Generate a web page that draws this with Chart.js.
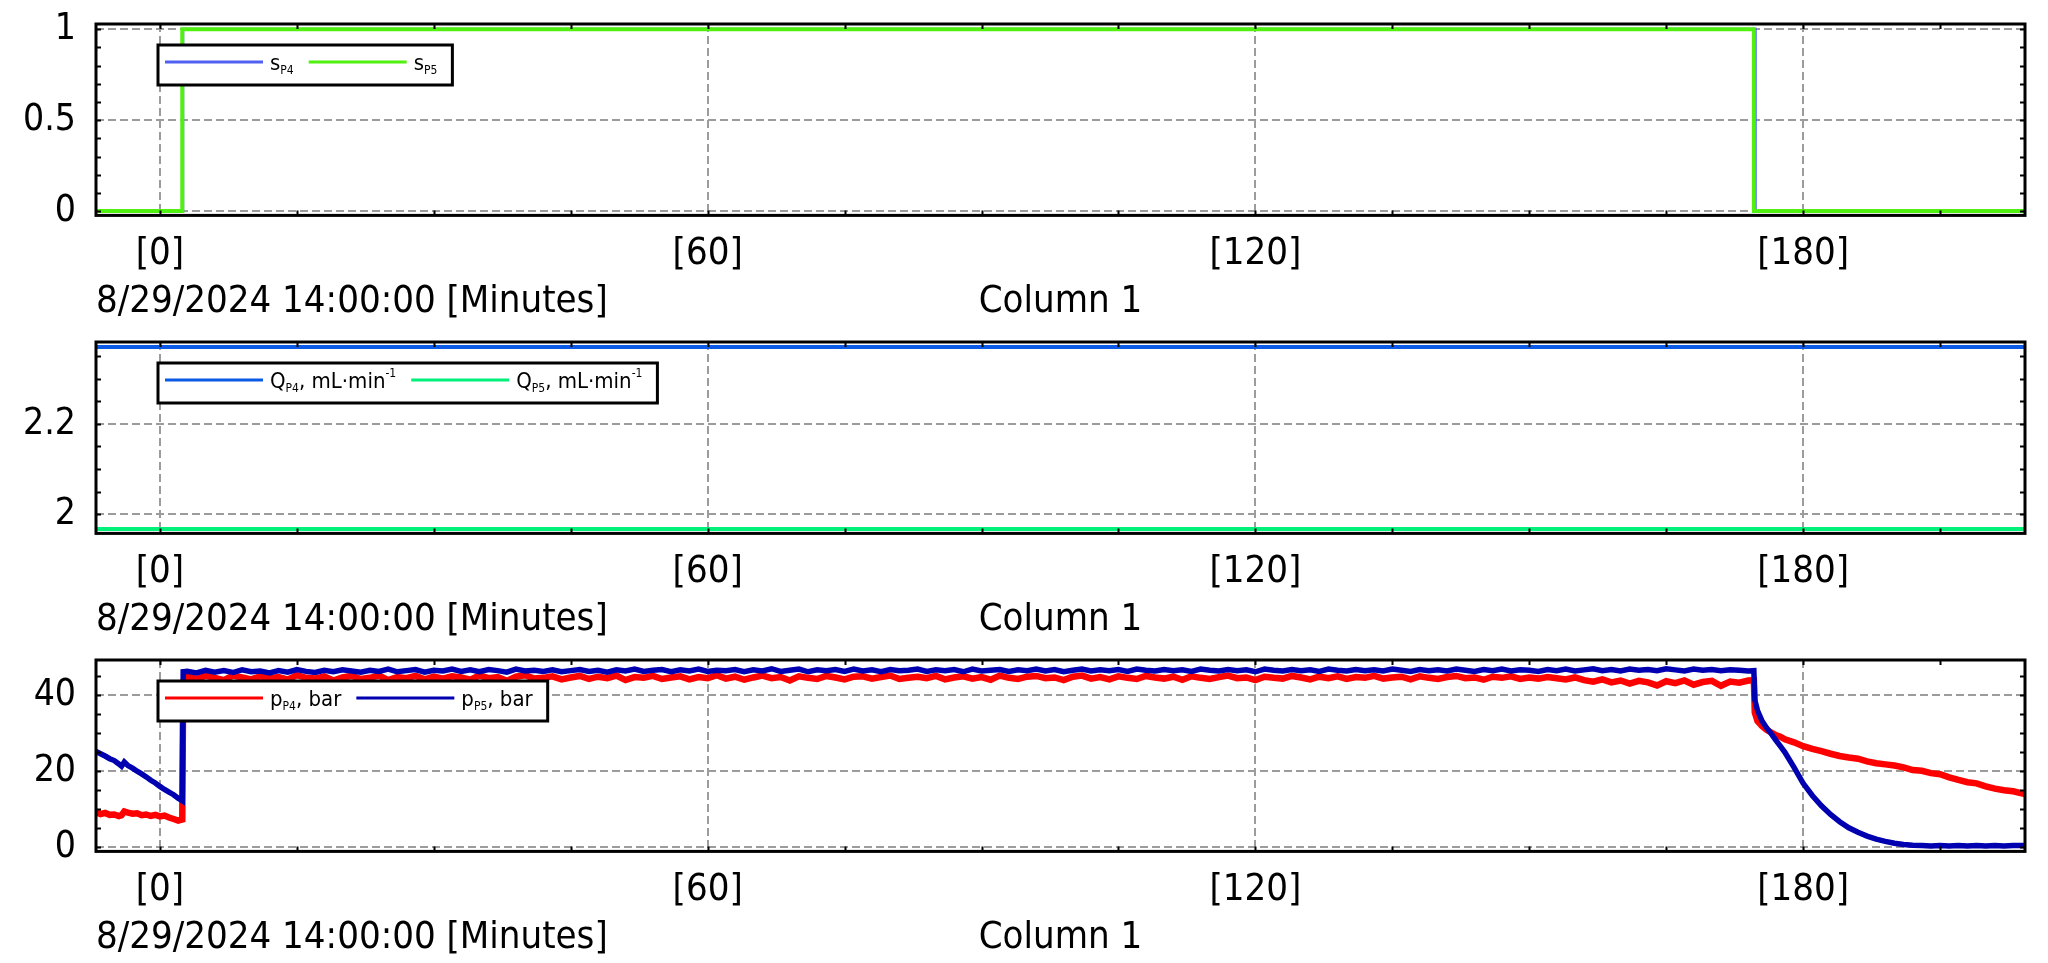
<!DOCTYPE html>
<html><head><meta charset="utf-8">
<script src="https://cdn.jsdelivr.net/npm/chart.js@4.4.1/dist/chart.umd.min.js"></script>
<style>
html,body{margin:0;padding:0;background:#fff;width:2048px;height:963px;overflow:hidden}
canvas{position:absolute;left:0}
</style></head><body>
<canvas id="c1" width="2048" height="318" style="top:0px"></canvas>
<canvas id="c2" width="2048" height="318" style="top:318px"></canvas>
<canvas id="c3" width="2048" height="327" style="top:636px"></canvas>
<script>
// ---------- shared x axis ----------
const xTickValues = [0, 60, 120, 180];
const xTickLabels = ['[0]', '[60]', '[120]', '[180]'];
const xAxisTitle = '8/29/2024 14:00:00 [Minutes]';
const xAxisCaption = 'Column 1';
const xMin = -7, xMax = 204.3;

// ---------- panel 1: s ----------
const sP4Time = [-7, 2.5, 2.5, 174.75, 174.75, 204.3];
const sP4Values = [0, 0, 1, 1, 0, 0];
const sP5Time = [-7, 2.45, 2.45, 174.6, 174.6, 204.3];
const sP5Values = [0, 0, 1, 1, 0, 0];
const sYTicks = [0, 0.5, 1];
const sYLabels = ['0', '0.5', '1'];
const sLegend = [
  [{t:'s'}, {t:'P4', sub:true}],
  [{t:'s'}, {t:'P5', sub:true}]
];

// ---------- panel 2: Q ----------
const qTime = [-7, 204.3];
const qP4Values = [2.371, 2.371];
const qP5Values = [1.967, 1.967];
const qYTicks = [2, 2.2];
const qYLabels = ['2', '2.2'];
const qLegend = [
  [{t:'Q'}, {t:'P4', sub:true}, {t:', mL·min'}, {t:'-1', sup:true}],
  [{t:'Q'}, {t:'P5', sub:true}, {t:', mL·min'}, {t:'-1', sup:true}]
];

// ---------- panel 3: p ----------
const pTime = [
  -7, -6.5, -6, -5.5, -5, -4.5, -4.2, -3.9, -3.5, -3,
  -2.5, -2, -1.5, -1, -0.5, 0, 0.5, 1, 1.5, 2,
  2.45, 2.55,
  3, 4, 5, 6, 7, 8, 9, 10, 11, 12,
  13, 14, 15, 16, 17, 18, 19, 20, 21, 22,
  23, 24, 25, 26, 27, 28, 29, 30, 31, 32,
  33, 34, 35, 36, 37, 38, 39, 40, 41, 42,
  43, 44, 45, 46, 47, 48, 49, 50, 51, 52,
  53, 54, 55, 56, 57, 58, 59, 60, 61, 62,
  63, 64, 65, 66, 67, 68, 69, 70, 71, 72,
  73, 74, 75, 76, 77, 78, 79, 80, 81, 82,
  83, 84, 85, 86, 87, 88, 89, 90, 91, 92,
  93, 94, 95, 96, 97, 98, 99, 100, 101, 102,
  103, 104, 105, 106, 107, 108, 109, 110, 111, 112,
  113, 114, 115, 116, 117, 118, 119, 120, 121, 122,
  123, 124, 125, 126, 127, 128, 129, 130, 131, 132,
  133, 134, 135, 136, 137, 138, 139, 140, 141, 142,
  143, 144, 145, 146, 147, 148, 149, 150, 151, 152,
  153, 154, 155, 156, 157, 158, 159, 160, 161, 162,
  163, 164, 165, 166, 167, 168, 169, 170, 171, 172,
  173, 174, 174.6,
  174.7, 175, 175.5, 176, 176.5, 177, 177.5, 178, 179, 180,
  181, 182, 183, 184, 185, 186, 187, 188, 189, 190,
  191, 192, 193, 194, 195, 196, 197, 198, 199, 200,
  201, 202, 203, 204.3
];
const pP4Values = [
  9.2, 8.7, 9.0, 8.5, 8.6, 8.2, 8.4, 9.4, 9.1, 8.8,
  8.9, 8.4, 8.6, 8.2, 8.5, 8.1, 8.3, 7.8, 7.4, 7.0,
  7.3, 43.6,
  44.9, 44.3, 45.1, 44.6, 44.0, 45.2, 44.7, 44.2, 45.0, 44.5,
  44.8, 44.1, 45.3, 44.6, 44.4, 45.0, 43.9, 44.7, 45.1, 44.3,
  44.6, 45.2, 44.0, 44.8, 44.5, 45.1, 44.2, 44.9, 44.4, 45.0,
  44.7, 44.1, 45.2, 44.5, 44.8, 43.8, 44.9, 45.3, 44.4, 44.6,
  45.0, 44.2, 44.7, 45.1, 44.3, 44.9, 44.5, 45.2, 44.0, 44.8,
  44.6, 45.1, 44.3, 44.7, 45.0, 44.2, 44.8, 44.5, 45.3, 44.4,
  44.9, 44.1, 44.7, 45.2, 44.5, 44.8, 43.9, 45.0, 44.6, 44.3,
  45.1, 44.7, 44.2, 44.9, 45.0, 44.4, 44.8, 45.2, 44.3, 44.6,
  44.9, 44.5, 45.1, 44.2, 44.7, 45.0, 44.4, 44.8, 44.1, 45.2,
  44.6, 44.3, 44.9, 45.1, 44.5, 44.7, 44.0, 44.9, 45.2, 44.4,
  44.8, 44.2, 45.0, 44.6, 44.3, 45.1, 44.7, 44.4, 44.9, 44.1,
  45.0, 44.6, 44.3, 44.8, 45.2, 44.5, 44.7, 44.0, 44.9, 44.6,
  44.4, 45.1, 44.7, 44.2, 44.9, 44.5, 45.0, 44.3, 44.8, 44.6,
  45.1, 44.4, 44.7, 44.9, 44.2, 45.0, 44.6, 44.3, 44.8, 45.1,
  44.5, 44.7, 44.1, 44.9, 44.6, 45.0, 44.3, 44.7, 44.4, 44.8,
  44.5, 44.2, 44.7, 44.0, 43.6, 44.2, 43.4, 43.9, 43.1, 43.8,
  43.4, 42.6, 43.7, 43.2, 43.9, 42.8, 43.5, 43.8, 42.5, 43.6,
  43.3, 43.9, 44.0,
  35.5, 33.2, 31.9, 30.9, 30.2, 29.5, 29.1, 28.4, 27.6, 26.6,
  25.9, 25.3, 24.6, 24.0, 23.6, 23.3, 22.6, 22.1, 21.8, 21.5,
  21.0, 20.3, 20.1, 19.5, 19.2, 18.4, 17.7, 17.1, 16.8, 16.0,
  15.4, 15.0, 14.7, 14.0
];
const pP5Values = [
  25.2, 24.6, 24.0, 23.3, 22.8, 21.9, 21.3, 22.4, 21.5, 20.8,
  20.0, 19.3, 18.5, 17.6, 16.9, 16.0, 15.2, 14.5, 13.8, 12.9,
  12.2, 46.2,
  46.3, 45.9, 46.6, 46.1, 46.5, 46.0, 46.7, 46.2, 46.4, 45.9,
  46.5, 46.1, 46.8, 46.3, 46.0, 46.6, 46.2, 46.7, 46.4, 46.1,
  46.6, 46.3, 46.9, 46.2, 46.5, 46.8, 46.1, 46.6, 46.4, 46.9,
  46.3, 46.7, 46.2, 46.8, 46.5, 46.1, 46.9, 46.4, 46.6, 46.3,
  46.7, 46.2, 46.5, 46.8, 46.3, 46.6, 46.1, 46.7, 46.4, 46.9,
  46.3, 46.6, 46.8, 46.2, 46.7, 46.4, 46.9, 46.3, 46.6, 46.5,
  46.8, 46.2, 46.7, 46.4, 47.0, 46.3, 46.6, 46.9, 46.2, 46.7,
  46.5, 46.8, 46.3, 46.9, 46.4, 46.7, 46.2, 46.8, 46.5, 46.6,
  46.9, 46.3, 46.7, 46.5, 46.8, 46.2, 46.9, 46.4, 46.6, 46.8,
  46.3, 46.7, 46.5, 46.9, 46.4, 46.8, 46.2, 46.6, 46.9, 46.4,
  46.7, 46.5, 46.8, 46.3, 46.9, 46.6, 46.4, 46.8, 46.5, 46.7,
  46.3, 46.9, 46.6, 46.4, 46.8, 46.5, 46.7, 46.2, 46.9, 46.6,
  46.4, 46.8, 46.5, 46.7, 46.3, 46.9, 46.6, 46.4, 46.8, 46.5,
  46.7, 46.4, 46.9, 46.6, 46.3, 46.8, 46.5, 46.7, 46.4, 46.9,
  46.6, 46.3, 46.8, 46.5, 46.9, 46.4, 46.7, 46.6, 46.3, 46.8,
  46.5, 46.9, 46.4, 46.7, 47.0, 46.5, 46.8, 46.4, 46.9, 46.6,
  46.8, 46.5, 47.0, 46.7, 46.4, 46.9, 46.6, 46.8, 46.5, 46.7,
  46.6, 46.4, 46.5,
  38.8, 36.0, 33.2, 31.4, 29.9, 28.2, 26.6, 25.0, 21.0, 16.8,
  13.6, 10.9, 8.6, 6.7, 5.1, 3.9, 2.9, 2.1, 1.5, 1.0,
  0.7, 0.5, 0.4, 0.3, 0.4, 0.3, 0.4, 0.3, 0.4, 0.3,
  0.4, 0.3, 0.4, 0.4
];
const pYTicks = [0, 20, 40];
const pYLabels = ['0', '20', '40'];
const pLegend = [
  [{t:'p'}, {t:'P4', sub:true}, {t:', bar'}],
  [{t:'p'}, {t:'P5', sub:true}, {t:', bar'}]
];

// ---------- styling ----------
const FONT = "'DejaVu Sans Condensed', 'DejaVu Sans', sans-serif";
const AREA_TOP = 24, AREA_H = 191.4, AREA_LEFT = 96, AREA_RIGHT_PAD = 23;

const toXY = (xs, ys) => xs.map((x, i) => ({x: x, y: ys[i]}));

const decorPlugin = {
  id: 'decor',
  afterDraw(chart, args, o) {
    const {ctx, chartArea: a, scales} = chart;
    const xs = scales.x, ys = scales.y;
    ctx.save();
    // inward minor ticks on all four sides
    ctx.strokeStyle = '#000';
    ctx.lineWidth = 2;
    ctx.beginPath();
    for (let k = Math.ceil(xs.min / o.xStep); k * o.xStep <= xs.max; k++) {
      const px = Math.round(xs.getPixelForValue(k * o.xStep)) + 0.5;
      ctx.moveTo(px, a.top); ctx.lineTo(px, a.top + 5);
      ctx.moveTo(px, a.bottom); ctx.lineTo(px, a.bottom - 5);
    }
    for (let k = Math.ceil(ys.min / o.yStep - 1e-9); k * o.yStep <= ys.max + 1e-9; k++) {
      const py = Math.round(ys.getPixelForValue(k * o.yStep)) + 0.5;
      ctx.moveTo(a.left, py); ctx.lineTo(a.left + 5, py);
      ctx.moveTo(a.right, py); ctx.lineTo(a.right - 5, py);
    }
    ctx.stroke();
    // frame
    ctx.lineWidth = 3;
    ctx.strokeRect(a.left, a.top, a.right - a.left, a.bottom - a.top);

    // legend box
    const items = o.legend;
    const mainFont = `22px ${FONT}`, smallFont = `12px ${FONT}`;
    const widthOf = parts => parts.reduce((w, p) => {
      ctx.font = (p.sub || p.sup) ? smallFont : mainFont;
      return w + ctx.measureText(p.t).width;
    }, 0);
    const lineLen = 98, pad = 7, gap = 15;
    let boxW = pad;
    items.forEach(parts => { boxW += lineLen + pad + widthOf(parts) + gap; });
    const bx = a.left + 62, by = a.top + 21, bh = 40;
    ctx.fillStyle = '#fff';
    ctx.fillRect(bx, by, boxW, bh);
    ctx.strokeStyle = '#000';
    ctx.lineWidth = 3;
    ctx.strokeRect(bx, by, boxW, bh);
    const cy = by + bh / 2;
    let x = bx + pad;
    items.forEach((parts, i) => {
      ctx.strokeStyle = chart.data.datasets[i].borderColor;
      ctx.lineWidth = 3;
      ctx.beginPath();
      ctx.moveTo(x, cy - 3); ctx.lineTo(x + lineLen, cy - 3);
      ctx.stroke();
      x += lineLen + pad;
      ctx.fillStyle = '#000';
      ctx.textAlign = 'left';
      ctx.textBaseline = 'alphabetic';
      parts.forEach(p => {
        ctx.font = (p.sub || p.sup) ? smallFont : mainFont;
        const dy = p.sub ? 4 : (p.sup ? -11 : 0);
        ctx.fillText(p.t, x, cy + 5 + dy);
        x += ctx.measureText(p.t).width;
      });
      x += gap;
    });

    // x-axis titles
    ctx.fillStyle = '#000';
    ctx.font = `38px ${FONT}`;
    ctx.textBaseline = 'alphabetic';
    ctx.textAlign = 'left';
    ctx.fillText(xAxisTitle, a.left, a.bottom + 97);
    ctx.textAlign = 'center';
    ctx.fillText(xAxisCaption, (a.left + a.right) / 2, a.bottom + 97);
    ctx.restore();
  }
};

function makeChart(id, datasets, yMin, yMax, yTicks, yLabels, yStep, legend) {
  return new Chart(document.getElementById(id), {
    type: 'line',
    data: {datasets: datasets},
    options: {
      responsive: false,
      animation: false,
      events: [],
      layout: {padding: {top: AREA_TOP, right: AREA_RIGHT_PAD, left: 0, bottom: 0}},
      elements: {point: {radius: 0}, line: {tension: 0, borderJoinStyle: 'miter', borderCapStyle: 'butt'}},
      plugins: {
        legend: {display: false},
        tooltip: {enabled: false},
        decor: {xStep: 15, yStep: yStep, legend: legend}
      },
      scales: {
        x: {
          type: 'linear', min: xMin, max: xMax,
          afterBuildTicks: s => { s.ticks = xTickValues.map(v => ({value: v})); },
          afterFit: s => {
            s.height = s.chart.height - AREA_TOP - AREA_H;
            s.paddingLeft = 0; s.paddingRight = 0;
          },
          ticks: {
            callback: (v, i) => xTickLabels[i],
            font: {family: FONT, size: 38},
            color: '#000', padding: 16, maxRotation: 0, autoSkip: false
          },
          grid: {color: '#9c9c9c', lineWidth: 2, drawTicks: false},
          border: {display: false, dash: [8, 4]}
        },
        y: {
          type: 'linear', min: yMin, max: yMax,
          afterBuildTicks: s => { s.ticks = yTicks.map(v => ({value: v})); },
          afterFit: s => {
            s.width = AREA_LEFT;
            s.paddingTop = 0; s.paddingBottom = 0;
          },
          ticks: {
            callback: (v, i) => yLabels[i],
            font: {family: FONT, size: 37},
            color: '#000', padding: 20
          },
          grid: {color: '#9c9c9c', lineWidth: 2, drawTicks: false},
          border: {display: false, dash: [8, 4]}
        }
      }
    },
    plugins: [decorPlugin]
  });
}

makeChart('c1', [
  {label: 'sP4', data: toXY(sP4Time, sP4Values), borderColor: '#5060f0', borderWidth: 3, order: 2},
  {label: 'sP5', data: toXY(sP5Time, sP5Values), borderColor: '#50f010', borderWidth: 4, order: 1}
], -0.024, 1.029, sYTicks, sYLabels, 0.1, sLegend);

makeChart('c2', [
  {label: 'QP4', data: toXY(qTime, qP4Values), borderColor: '#0a5ae6', borderWidth: 4, order: 2},
  {label: 'QP5', data: toXY(qTime, qP5Values), borderColor: '#00f07a', borderWidth: 4, order: 1}
], 1.957, 2.382, qYTicks, qYLabels, 0.05, qLegend);

makeChart('c3', [
  {label: 'pP4', data: toXY(pTime, pP4Values), borderColor: '#ff0000', borderWidth: 6.5, order: 2},
  {label: 'pP5', data: toXY(pTime, pP5Values), borderColor: '#0000b0', borderWidth: 5.5, order: 1}
], -1.13, 49.3, pYTicks, pYLabels, 5, pLegend);
</script>
</body></html>
